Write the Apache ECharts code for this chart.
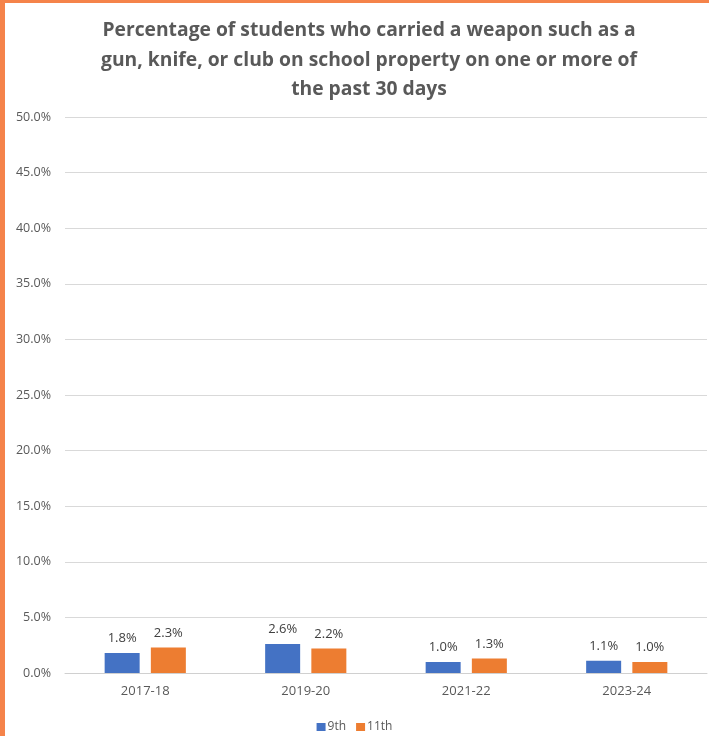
<!DOCTYPE html>
<html><head><meta charset="utf-8">
<script src="https://cdn.jsdelivr.net/npm/echarts@6/dist/echarts.min.js"></script>
<style>html,body{margin:0;padding:0;background:#fff}#main{width:709px;height:736px}</style>
</head><body><div id="main"></div>
<script>
const categories = ['2017-18', '2019-20', '2021-22', '2023-24'];
const ninth = [1.8, 2.6, 1.0, 1.1];
const eleventh = [2.3, 2.2, 1.3, 1.0];
const seriesNames = ['9th', '11th'];
const titleText = 'Percentage of students who carried a weapon such as a\ngun, knife, or club on school property on one or more of\nthe past 30 days';

const chart = echarts.init(document.getElementById('main'));
const labelStyle = {show: true, position: 'top', distance: 8, color: '#404040', fontSize: 13, fontFamily: 'Open Sans', formatter: p => p.value.toFixed(1) + '%'};
chart.setOption({
  animation: false,
  backgroundColor: '#fff',
  graphic: [
    {type: 'rect', left: 0, top: 0, shape: {width: 5, height: 736}, style: {fill: '#F5834A'}, z: 100},
    {type: 'rect', left: 0, top: 0, shape: {width: 709, height: 3}, style: {fill: '#F5834A'}, z: 100}
  ],
  title: {
    text: titleText,
    left: 364, top: 11, textAlign: 'center',
    textStyle: {fontFamily: 'Open Sans', fontWeight: 'bold', fontSize: 19.3, color: '#595959', lineHeight: 29.5, align: 'center'}
  },
  legend: {
    data: seriesNames, bottom: -2, left: 'center', itemWidth: 9, itemHeight: 8, itemGap: 10, icon: 'rect',
    textStyle: {fontFamily: 'Open Sans', fontSize: 12, color: '#595959', padding: [0, 0, 0, -3]}
  },
  grid: {left: 65, right: 2, top: 117, bottom: 63, containLabel: false},
  xAxis: {
    type: 'category', data: categories,
    axisLine: {lineStyle: {color: '#d0d0d0', width: 1}}, axisTick: {show: false},
    axisLabel: {color: '#595959', fontFamily: 'Open Sans', fontSize: 13, margin: 12}
  },
  yAxis: {
    type: 'value', min: 0, max: 50, interval: 5,
    axisLine: {show: false}, axisTick: {show: false},
    splitLine: {lineStyle: {color: '#d9d9d9', width: 1}},
    axisLabel: {color: '#595959', fontFamily: 'Open Sans', fontSize: 12.5, margin: 14, formatter: v => v.toFixed(1) + '%'}
  },
  series: [
    {name: seriesNames[0], type: 'bar', data: ninth, barWidth: 35, barGap: '32%', itemStyle: {color: '#4472C4'}, label: labelStyle},
    {name: seriesNames[1], type: 'bar', data: eleventh, barWidth: 35, itemStyle: {color: '#ED7D31'}, label: labelStyle}
  ]
});
</script></body></html>
